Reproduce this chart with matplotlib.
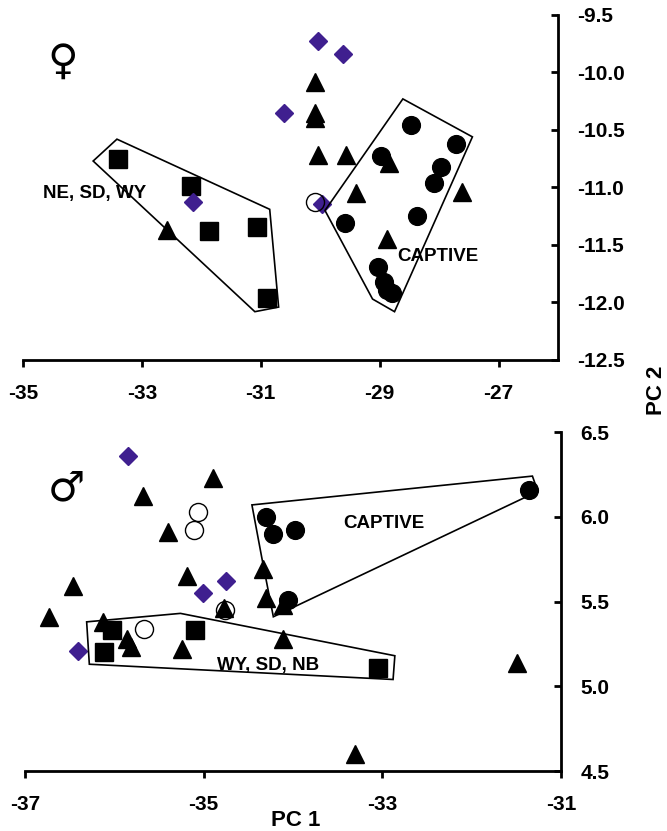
"""
PCA scatter of female (top) and male (bottom) shape scores,
wild groups vs captive group outlined by convex hulls.
"""
import matplotlib
matplotlib.use("Agg")
import matplotlib.pyplot as plt
from matplotlib.patches import Polygon

plt.rcParams["font.family"] = ["Liberation Sans", "DejaVu Sans"]
plt.rcParams["font.weight"] = "bold"
plt.rcParams["axes.unicode_minus"] = False

PURPLE = "#3f1f8f"

# ─── Female (top panel) ─────────────────────────────────────
F_SQUARE_X = [-33.40, -32.18, -31.87, -31.07, -30.90]
F_SQUARE_Y = [-10.75, -10.99, -11.38, -11.34, -11.96]

F_DIAMOND_X = [-30.03, -29.62, -30.61, -32.14, -29.97]
F_DIAMOND_Y = [-9.73, -9.84, -10.35, -11.13, -11.14]

F_OPEN_X = [-30.08]
F_OPEN_Y = [-11.13]

F_TRI_X = [-32.58, -30.08, -30.09, -30.09, -30.03, -29.57, -29.40, -28.85, -28.88, -27.62]
F_TRI_Y = [-11.37, -10.08, -10.35, -10.40, -10.72, -10.72, -11.05, -10.79, -11.45, -11.04]

F_CIRCLE_X = [-28.48, -27.72, -28.97, -27.97, -28.09, -28.38, -29.59, -29.02, -28.92, -28.88, -28.80]
F_CIRCLE_Y = [-10.46, -10.62, -10.73, -10.82, -10.96, -11.25, -11.31, -11.69, -11.82, -11.89, -11.92]

F_HULL_WILD = [(-33.82, -10.77), (-33.42, -10.58), (-30.85, -11.19), (-30.70, -12.04), (-31.10, -12.08)]
F_HULL_CAPTIVE = [(-28.61, -10.23), (-27.44, -10.56), (-28.75, -12.08), (-29.12, -11.97), (-29.92, -11.20)]

F_XTICKS = [-35, -33, -31, -29, -27]
F_YTICKS = [-12.5, -12.0, -11.5, -11.0, -10.5, -10.0, -9.5]

# ─── Male (bottom panel) ────────────────────────────────────
M_SQUARE_X = [-36.03, -36.12, -35.10, -33.05]
M_SQUARE_Y = [5.33, 5.20, 5.33, 5.11]

M_DIAMOND_X = [-35.85, -34.75, -35.01, -36.41]
M_DIAMOND_Y = [6.36, 5.62, 5.55, 5.21]

M_OPEN_X = [-35.06, -35.11, -34.76, -35.67]
M_OPEN_Y = [6.03, 5.92, 5.45, 5.34]

M_TRI_X = [-34.90, -35.68, -35.40, -36.46, -36.73, -35.19, -34.34, -34.30, -34.77,
           -34.11, -36.13, -35.86, -35.81, -35.24, -34.11, -31.49, -33.31]
M_TRI_Y = [6.23, 6.12, 5.91, 5.59, 5.41, 5.65, 5.69, 5.52, 5.46,
           5.48, 5.38, 5.28, 5.23, 5.22, 5.28, 5.14, 4.60]

M_CIRCLE_X = [-34.30, -34.22, -33.98, -34.06, -31.36]
M_CIRCLE_Y = [6.00, 5.90, 5.92, 5.51, 6.16]

M_HULL_WILD = [(-36.31, 5.38), (-35.26, 5.43), (-32.86, 5.18), (-32.88, 5.04), (-36.28, 5.13)]
M_HULL_CAPTIVE = [(-34.46, 6.07), (-34.35, 5.76), (-34.22, 5.41), (-31.26, 6.15), (-31.32, 6.24)]

M_XTICKS = [-37, -35, -33, -31]
M_YTICKS = [4.5, 5.0, 5.5, 6.0, 6.5]


def draw_panel(ax, sq, dia, opn, tri, circ, hulls):
    ax.plot(*tri, ls="none", marker="^", ms=13, color="black", zorder=3)
    ax.plot(*circ, ls="none", marker="o", ms=12.8, color="black", zorder=3)
    ax.plot(*sq, ls="none", marker="s", ms=12.5, color="black", zorder=3)
    ax.plot(*dia, ls="none", marker="D", ms=9.5, color=PURPLE, zorder=3)
    ax.plot(*opn, ls="none", marker="o", ms=13, mfc="none", mec="black", mew=1.0, zorder=4)
    for verts in hulls:
        ax.add_patch(Polygon(verts, closed=True, fill=False, ec="black", lw=1.2, zorder=5))

    for side in ("top", "left"):
        ax.spines[side].set_visible(False)
    for side in ("bottom", "right"):
        ax.spines[side].set_linewidth(2.0)
    ax.yaxis.tick_right()
    ax.tick_params(axis="x", direction="out", length=5, width=2, pad=12, labelsize=15)
    ax.tick_params(axis="y", direction="in", length=5, width=2, pad=14, labelsize=15)


fig = plt.figure(figsize=(6.67, 8.31), dpi=100)

# top: female
ax1 = fig.add_axes([0.0345, 0.5668, 0.8021, 0.4152])
draw_panel(ax1, (F_SQUARE_X, F_SQUARE_Y), (F_DIAMOND_X, F_DIAMOND_Y), (F_OPEN_X, F_OPEN_Y),
           (F_TRI_X, F_TRI_Y), (F_CIRCLE_X, F_CIRCLE_Y), [F_HULL_WILD, F_HULL_CAPTIVE])
ax1.set_xlim(-35, -26)
ax1.set_ylim(-12.5, -9.5)
ax1.set_xticks(F_XTICKS)
ax1.set_yticks(F_YTICKS)
ax1.set_yticklabels([f"{v:.1f}" for v in F_YTICKS])
ax1.text(-34.66, -11.05, "NE, SD, WY", fontsize=13.5, fontweight="bold", va="center", zorder=6)
ax1.text(-28.71, -11.60, "CAPTIVE", fontsize=13.5, fontweight="bold", va="center", zorder=6)
ax1.text(-34.33, -9.91, "\u2640", fontsize=30, fontweight="normal", ha="center", va="center",
         family=["DejaVu Sans"])

# bottom: male
ax2 = fig.add_axes([0.0375, 0.0722, 0.8036, 0.4079])
draw_panel(ax2, (M_SQUARE_X, M_SQUARE_Y), (M_DIAMOND_X, M_DIAMOND_Y), (M_OPEN_X, M_OPEN_Y),
           (M_TRI_X, M_TRI_Y), (M_CIRCLE_X, M_CIRCLE_Y), [M_HULL_WILD, M_HULL_CAPTIVE])
ax2.set_xlim(-37, -31)
ax2.set_ylim(4.5, 6.5)
ax2.set_xticks(M_XTICKS)
ax2.set_yticks(M_YTICKS)
ax2.set_yticklabels([f"{v:.1f}" for v in M_YTICKS])
ax2.text(-34.85, 5.12, "WY, SD, NB", fontsize=13.5, fontweight="bold", va="center", zorder=6)
ax2.text(-33.44, 5.96, "CAPTIVE", fontsize=13.5, fontweight="bold", va="center", zorder=6)
ax2.text(-36.54, 6.17, "\u2642", fontsize=30, fontweight="normal", ha="center", va="center",
         family=["DejaVu Sans"])

fig.text(0.444, 0.0132, "PC 1", fontsize=16, fontweight="bold", ha="center", va="center")
fig.text(0.984, 0.530, "PC 2", fontsize=16, fontweight="bold", ha="center", va="center",
         rotation=90)

fig.savefig("out.png", dpi=100)
